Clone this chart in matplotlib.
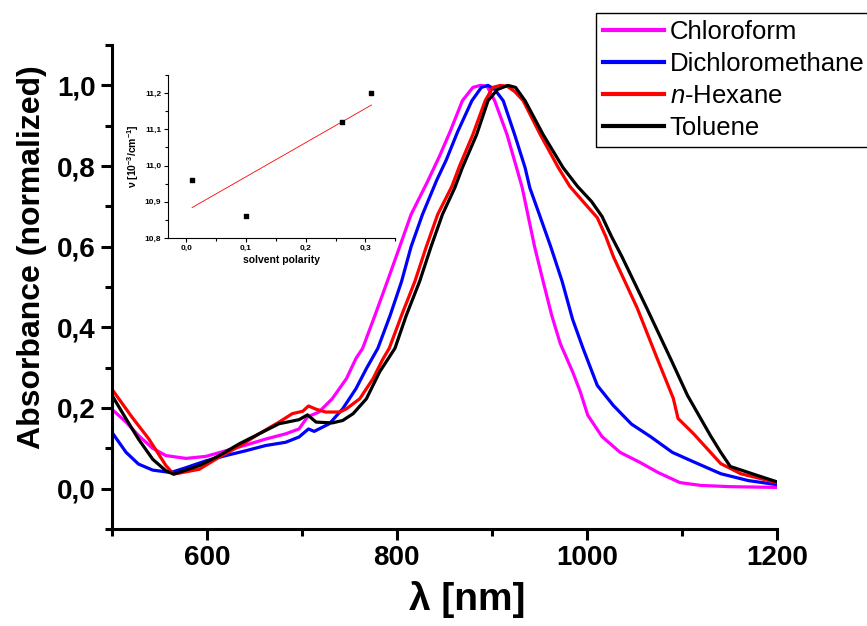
import numpy as np
import matplotlib
matplotlib.use("Agg")
import matplotlib.pyplot as plt
from matplotlib.ticker import FuncFormatter, MultipleLocator

plt.rcParams['font.family'] = ['Liberation Sans', 'DejaVu Sans']
plt.rcParams['mathtext.fontset'] = 'custom'
plt.rcParams['mathtext.rm'] = 'Liberation Sans'
plt.rcParams['mathtext.it'] = 'Liberation Sans:italic'
plt.rcParams['mathtext.bf'] = 'Liberation Sans:bold'

# --- spectra (wavelength nm, normalized absorbance) ---
chcl3_wl = [500, 515, 528, 543, 557, 578, 599, 620, 641, 662, 683, 697, 706, 718,
            732, 747, 757, 764, 777, 790, 803, 815, 832, 845, 856, 869, 880, 888,
            895, 903, 916, 926, 932, 937, 945, 954, 963, 972, 985, 993, 1001, 1016,
            1035, 1056, 1075, 1098, 1120, 1150, 1200]
chcl3_abs = [0.197, 0.165, 0.132, 0.100, 0.082, 0.075, 0.080, 0.094, 0.108, 0.123,
             0.136, 0.148, 0.178, 0.190, 0.223, 0.273, 0.323, 0.348, 0.430, 0.514,
             0.600, 0.680, 0.760, 0.825, 0.885, 0.962, 0.995, 1.000, 0.998, 0.962,
             0.878, 0.796, 0.746, 0.690, 0.600, 0.514, 0.430, 0.360, 0.290, 0.241,
             0.182, 0.129, 0.090, 0.065, 0.040, 0.015, 0.008, 0.005, 0.003]

dcm_wl = [500, 515, 528, 543, 562, 578, 599, 620, 641, 662, 683, 697, 707, 713, 729,
          743, 757, 768, 780, 793, 805, 815, 827, 842, 852, 864, 879, 889, 896, 903,
          912, 924, 935, 940, 950, 962, 974, 985, 996, 1011, 1028, 1047, 1067, 1090,
          1109, 1141, 1170, 1200]
dcm_abs = [0.140, 0.090, 0.061, 0.046, 0.040, 0.052, 0.069, 0.082, 0.094, 0.107,
           0.115, 0.128, 0.148, 0.142, 0.161, 0.198, 0.248, 0.298, 0.348, 0.430,
           0.514, 0.600, 0.680, 0.765, 0.815, 0.885, 0.962, 0.995, 1.000, 0.990,
           0.962, 0.878, 0.796, 0.746, 0.680, 0.600, 0.514, 0.420, 0.348, 0.256,
           0.206, 0.160, 0.129, 0.090, 0.070, 0.037, 0.020, 0.010]

hex_wl = [500, 521, 539, 557, 565, 592, 613, 634, 655, 676, 690, 701, 707, 715, 725,
          740, 747, 761, 775, 785, 792, 805, 819, 831, 843, 858, 866, 880, 893, 901,
          909, 916, 924, 933, 951, 970, 982, 996, 1011, 1020, 1028, 1053, 1074, 1091,
          1096, 1112, 1141, 1162, 1200]
hex_abs = [0.247, 0.178, 0.123, 0.057, 0.036, 0.048, 0.078, 0.105, 0.136, 0.165,
           0.186, 0.192, 0.205, 0.197, 0.190, 0.190, 0.198, 0.223, 0.273, 0.320,
           0.348, 0.430, 0.514, 0.600, 0.680, 0.750, 0.800, 0.878, 0.962, 0.995,
           1.000, 0.998, 0.985, 0.962, 0.878, 0.796, 0.750, 0.712, 0.672, 0.625,
           0.575, 0.448, 0.323, 0.224, 0.174, 0.137, 0.062, 0.037, 0.015]

tol_wl = [500, 515, 528, 543, 557, 565, 592, 613, 634, 655, 676, 697, 706, 715, 732,
          743, 754, 768, 782, 798, 810, 824, 836, 848, 861, 869, 884, 896, 906, 917,
          925, 935, 954, 975, 990, 1005, 1016, 1026, 1037, 1063, 1088, 1106, 1130,
          1141, 1151, 1183, 1200]
tol_abs = [0.232, 0.173, 0.123, 0.073, 0.044, 0.036, 0.057, 0.082, 0.111, 0.136,
           0.161, 0.171, 0.183, 0.165, 0.163, 0.169, 0.186, 0.223, 0.290, 0.348,
           0.430, 0.514, 0.600, 0.680, 0.746, 0.796, 0.878, 0.962, 0.990, 1.000,
           0.995, 0.962, 0.878, 0.796, 0.750, 0.712, 0.675, 0.625, 0.575, 0.448,
           0.323, 0.231, 0.132, 0.090, 0.055, 0.030, 0.017]

# --- inset: band position vs solvent polarity ---
polarity = [0.01, 0.10, 0.26, 0.31]
wavenumber = [10.96, 10.86, 11.12, 11.20]

series = [
    ("Chloroform", chcl3_wl, chcl3_abs, "#ff00ff"),
    ("Dichloromethane", dcm_wl, dcm_abs, "#0000ff"),
    (r"$\mathit{n}$-Hexane", hex_wl, hex_abs, "#ff0000"),
    ("Toluene", tol_wl, tol_abs, "#000000"),
]


def comma(fmt):
    return FuncFormatter(lambda v, p: (fmt % v).replace('.', ','))


fig = plt.figure(figsize=(8.67, 6.26), dpi=100)
ax = fig.add_axes([0.129, 0.155, 0.767, 0.773])

for name, wl, ab, col in series:
    ax.plot(wl, ab, color=col, lw=2.3, label=name)

ax.set_xlim(500, 1200)
ax.set_ylim(-0.1, 1.1)
ax.xaxis.set_minor_locator(MultipleLocator(100))
ax.yaxis.set_major_locator(MultipleLocator(0.2))
ax.yaxis.set_minor_locator(MultipleLocator(0.1))
ax.set_xticks([600, 800, 1000, 1200])
ax.yaxis.set_major_formatter(comma('%.1f'))
for s in ['top', 'right']:
    ax.spines[s].set_visible(False)
for s in ['left', 'bottom']:
    ax.spines[s].set_linewidth(2.2)
ax.tick_params(which='major', direction='out', length=8, width=2.2, labelsize=20)
ax.tick_params(which='minor', direction='out', length=5, width=2.2)
for lab in ax.get_xticklabels() + ax.get_yticklabels():
    lab.set_fontweight('bold')
ax.set_xlabel("λ [nm]", fontweight='bold', fontsize=28)
ax.xaxis.set_label_coords((467 - 112) / 665, -0.108)
ax.set_ylabel("Absorbance (normalized)", fontweight='bold', fontsize=23)
ax.yaxis.set_label_coords(-0.097, 0.562)

leg = ax.legend(loc='upper left', bbox_to_anchor=(596 / 867, 1 - 13 / 626),
                bbox_transform=fig.transFigure, borderaxespad=0, fontsize=18.5,
                handlelength=2.37, handletextpad=0.23, labelspacing=0.31,
                fancybox=False, framealpha=1, borderpad=0.27)
leg.get_frame().set_edgecolor('black')
leg.get_frame().set_linewidth(1.0)
for h in leg.get_lines():
    h.set_linewidth(3)

# inset
ins = fig.add_axes([0.194, 0.62, 0.262, 0.26])
ins.scatter(polarity, wavenumber, marker='s', s=9, color='black', zorder=3)
k, b = np.polyfit(polarity, wavenumber, 1)
px = np.array([min(polarity), max(polarity)])
ins.plot(px, k * px + b, color='red', lw=0.6)
ins.set_xlim(-0.03, 0.35)
ins.set_ylim(10.8, 11.25)
ins.xaxis.set_major_locator(MultipleLocator(0.1))
ins.xaxis.set_minor_locator(MultipleLocator(0.05))
ins.yaxis.set_major_locator(MultipleLocator(0.1))
ins.yaxis.set_minor_locator(MultipleLocator(0.05))
ins.xaxis.set_major_formatter(comma('%.1f'))
ins.yaxis.set_major_formatter(comma('%.1f'))
for s in ['top', 'right']:
    ins.spines[s].set_visible(False)
for s in ['left', 'bottom']:
    ins.spines[s].set_linewidth(0.8)
ins.tick_params(which='major', direction='out', length=3, width=0.8, labelsize=6, pad=2)
ins.tick_params(which='minor', direction='out', length=2, width=0.8)
for lab in ins.get_xticklabels() + ins.get_yticklabels():
    lab.set_fontweight('bold')
ins.set_xlabel("solvent polarity", fontweight='bold', fontsize=7.5, labelpad=2)
ins.set_ylabel(r"ν [10$^{\mathbf{-3}}$/cm$^{\mathbf{-1}}$]", fontweight='bold',
               fontsize=7.5, labelpad=3)

fig.savefig("out.png", dpi=100)
